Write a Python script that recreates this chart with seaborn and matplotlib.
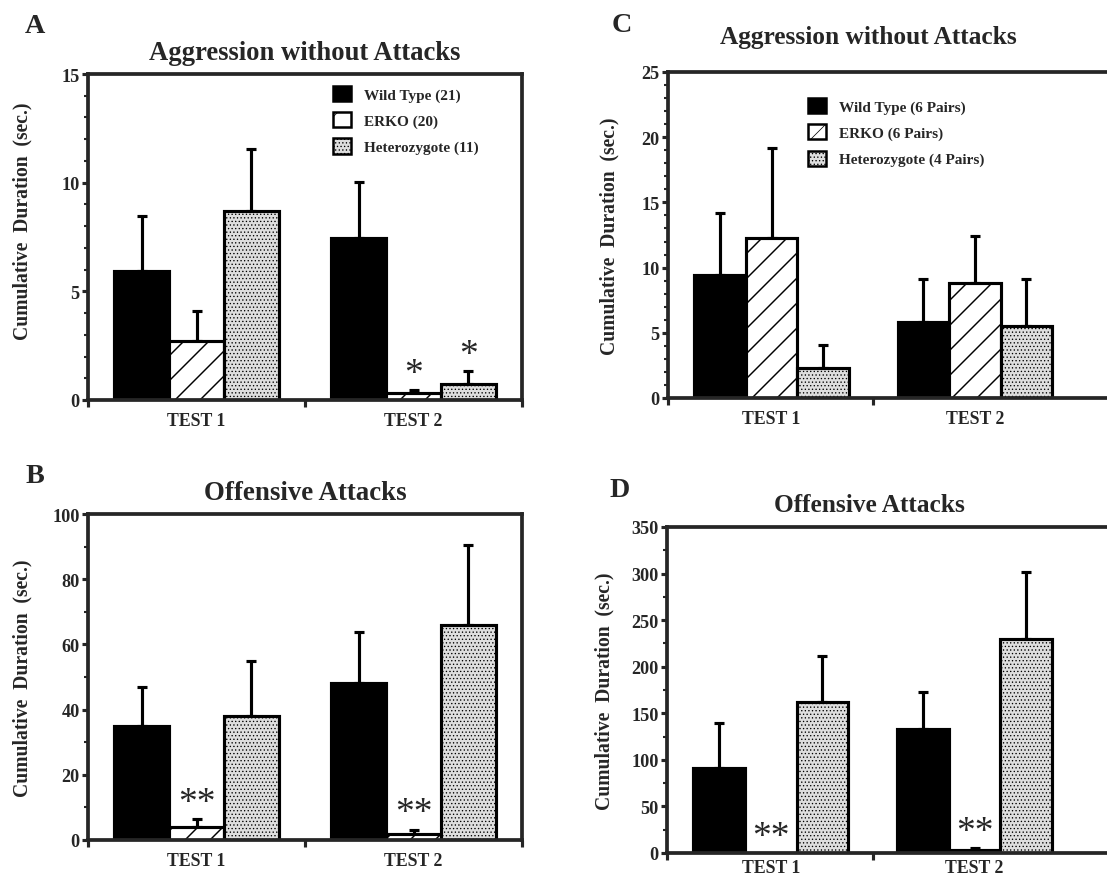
import numpy as np
import pandas as pd
import matplotlib
matplotlib.use('Agg')
import matplotlib.pyplot as plt
from matplotlib.patches import Patch
from matplotlib.ticker import MultipleLocator
import seaborn as sns

# categories
tests = ['TEST 1', 'TEST 2']
genotypes = ['Wild Type', 'ERKO', 'Heterozygote']

# A - aggression without attacks (individual males), mean and SEM per test
a_wt = [5.95, 7.45]
a_wt_sem = [2.5, 2.6]
a_erko = [2.73, 0.31]
a_erko_sem = [1.35, 0.15]
a_het = [8.71, 0.74]
a_het_sem = [2.85, 0.58]
a_erko_stars = ['', '*']
a_het_stars = ['', '*']

# B - offensive attacks (individual males)
b_wt = [35.1, 48.1]
b_wt_sem = [11.7, 15.6]
b_erko = [3.9, 1.8]
b_erko_sem = [2.5, 1.4]
b_het = [38.1, 66.1]
b_het_sem = [16.7, 24.5]
b_erko_stars = ['**', '**']
b_het_stars = ['', '']

# C - aggression without attacks (pairs)
c_wt = [9.4, 5.85]
c_wt_sem = [4.8, 3.3]
c_erko = [12.3, 8.8]
c_erko_sem = [6.85, 3.6]
c_het = [2.3, 5.5]
c_het_sem = [1.8, 3.65]

# D - offensive attacks (pairs)
d_wt = [91, 133]
d_wt_sem = [49, 40]
d_erko = [0, 3]
d_erko_sem = [0, 2]
d_het = [162, 230]
d_het_sem = [49, 72]
d_erko_stars = ['**', '**']
d_het_stars = ['', '']

legend_a = ['Wild Type (21)', 'ERKO (20)', 'Heterozygote (11)']
legend_c = ['Wild Type (6 Pairs)', 'ERKO (6 Pairs)', 'Heterozygote (4 Pairs)']

sns.set_style('ticks')
plt.rcParams['font.family'] = ['Liberation Serif', 'DejaVu Serif']
plt.rcParams['font.weight'] = 'bold'
plt.rcParams['hatch.linewidth'] = 0.7
plt.rcParams['hatch.color'] = 'black'

faces = ['black', 'white', '#dedede']
hatches = ['', '//', '.......']
LW = 1.5


def thin_dots(patch):
    # finer stipple for the heterozygote bars when the patch supports it
    if hasattr(patch, 'set_hatch_linewidth'):
        patch.set_hatch_linewidth(0.35)


def draw_panel(ax, wt, wt_sem, erko, erko_sem, het, het_sem, ymax, ystep, yminor,
               xlim, xminor, erko_stars=None, het_stars=None, right_spine=True, xpad=6):
    df = pd.DataFrame({
        'test': tests * 3,
        'genotype': [g for g in genotypes for _ in tests],
        'value': wt + erko + het,
    })
    sems = [wt_sem, erko_sem, het_sem]
    stars = [None, erko_stars, het_stars]
    sns.barplot(data=df, x='test', y='value', hue='genotype', order=tests,
                hue_order=genotypes, palette=dict(zip(genotypes, faces)),
                edgecolor='black', linewidth=LW, width=0.76, errorbar=None,
                legend=False, saturation=1, ax=ax)
    bar_conts = list(ax.containers)
    for i, cont in enumerate(bar_conts):
        xs = [b.get_x() + b.get_width() / 2 for b in cont]
        ys = [b.get_height() for b in cont]
        for b in cont:
            b.set_facecolor(faces[i])
            b.set_hatch(hatches[i])
            b.set_edgecolor('black')
            if i == 2:
                thin_dots(b)
        up = np.array(sems[i])
        keep = up > 0
        ax.errorbar(np.array(xs)[keep], np.array(ys)[keep],
                    yerr=[np.zeros(keep.sum()), up[keep]], fmt='none',
                    ecolor='black', elinewidth=LW, capsize=2.3, capthick=LW, zorder=0.5)
        if stars[i] is not None:
            for x, y, s, e in zip(xs, ys, stars[i], up):
                if s:
                    ax.annotate(s, (x, y + e), xytext=(0, 8), textcoords='offset points',
                                ha='center', va='center', fontsize=18,
                                fontweight='normal')
    ax.set_ylim(0, ymax)
    ax.set_xlim(*xlim)
    ax.yaxis.set_major_locator(MultipleLocator(ystep))
    ax.yaxis.set_minor_locator(MultipleLocator(yminor))
    ax.set_xticks([0, 1])
    ax.set_xticklabels(tests)
    ax.set_xticks(xminor, minor=True)
    ax.tick_params(axis='x', which='major', length=0, pad=xpad, labelsize=8.5)
    ax.tick_params(axis='x', which='minor', length=3.5, width=LW, direction='out')
    ax.tick_params(axis='y', which='major', length=3, width=LW, direction='out', labelsize=8.7, pad=1)
    ax.tick_params(axis='y', which='minor', length=1.8, width=1.0, direction='out')
    for lab in ax.get_xticklabels() + ax.get_yticklabels():
        lab.set_fontweight('bold')
    ax.set_xlabel('')
    ax.set_ylabel('Cumulative  Duration  (sec.)', fontsize=9.4, fontweight='bold')
    for sp in ax.spines.values():
        sp.set_linewidth(1.8)
        sp.set_visible(True)
    if not right_spine:
        ax.spines['right'].set_visible(False)


def add_legend(ax, labels, anchor):
    handles = [Patch(facecolor=f, edgecolor='black', hatch=h, linewidth=1.2)
               for f, h in zip(faces, ['', '/', '.......'])]
    leg = ax.legend(handles, labels, loc='upper left', bbox_to_anchor=anchor, frameon=False,
                    handlelength=1.15, handleheight=1.15, handletextpad=0.9,
                    labelspacing=0.68, borderpad=0, borderaxespad=0,
                    prop={'family': ['Liberation Serif'], 'weight': 'bold', 'size': 7.3})
    for p in leg.get_patches():
        thin_dots(p)


W, H = 1107, 880
fig = plt.figure(figsize=(W / 150, H / 150), dpi=150)

def px_axes(left, top, right, bottom):
    return fig.add_axes([left / W, 1 - bottom / H, (right - left) / W, (bottom - top) / H])

ax_a = px_axes(88, 75, 522, 401)
ax_b = px_axes(88, 515, 522, 841)
ax_c = px_axes(668, 73, 1107, 399)
ax_d = px_axes(667, 528, 1107, 854)

draw_panel(ax_a, a_wt, a_wt_sem, a_erko, a_erko_sem, a_het, a_het_sem, 15, 5, 1,
           (-0.5, 1.5), [-0.5, 0.5, 1.5], a_erko_stars, a_het_stars)
draw_panel(ax_b, b_wt, b_wt_sem, b_erko, b_erko_sem, b_het, b_het_sem, 100, 20, 10,
           (-0.5, 1.5), [-0.5, 0.5, 1.5], b_erko_stars, b_het_stars)
draw_panel(ax_c, c_wt, c_wt_sem, c_erko, c_erko_sem, c_het, c_het_sem, 25, 5, 1,
           (-0.51, 1.65), [-0.51, 0.5], right_spine=False)
draw_panel(ax_d, d_wt, d_wt_sem, d_erko, d_erko_sem, d_het, d_het_sem, 350, 50, 25,
           (-0.51, 1.65), [-0.51, 0.5], d_erko_stars, d_het_stars, right_spine=False, xpad=3)

ax_a.yaxis.set_label_coords(-0.128, 0.55)
ax_b.yaxis.set_label_coords(-0.127, 0.5)
ax_c.yaxis.set_label_coords(-0.11, 0.5)
ax_d.yaxis.set_label_coords(-0.12, 0.5)

add_legend(ax_a, legend_a, (0.565, 0.963))
add_legend(ax_c, legend_c, (0.319, 0.92))

# titles and panel letters
fig.text(305 / W, 1 - 60 / H, 'Aggression without Attacks', ha='center', va='baseline',
         fontsize=12.8, fontweight='bold')
fig.text(868 / W, 1 - 44 / H, 'Aggression without Attacks', ha='center', va='baseline',
         fontsize=12.2, fontweight='bold')
fig.text(305 / W, 1 - 500 / H, 'Offensive Attacks', ha='center', va='baseline',
         fontsize=12.9, fontweight='bold')
fig.text(869 / W, 1 - 512 / H, 'Offensive Attacks', ha='center', va='baseline',
         fontsize=12.2, fontweight='bold')
for letter, x, y in [('A', 25, 33), ('B', 25, 483), ('C', 612, 32), ('D', 610, 497)]:
    fig.text(x / W, 1 - y / H, letter, ha='left', va='baseline', fontsize=13.5, fontweight='bold')

fig.savefig('out.png', dpi=150, facecolor='white')
